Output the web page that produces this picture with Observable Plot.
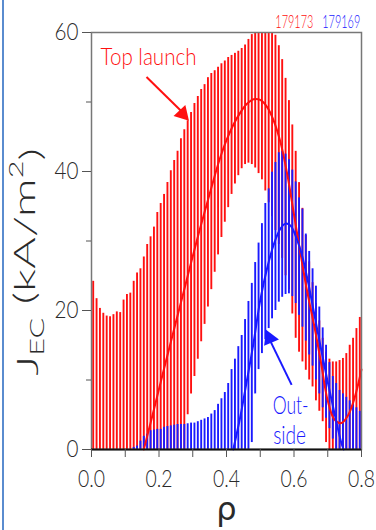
<!DOCTYPE html>
<html><head><meta charset="utf-8">
<script src="https://cdn.jsdelivr.net/npm/d3@7"></script>
<script src="https://cdn.jsdelivr.net/npm/@observablehq/plot@0.6"></script>
<style>
html,body{margin:0;padding:0;background:#fff;}
#wrap{position:relative;width:376px;height:530px;overflow:hidden;background:#fff;}
#border{position:absolute;left:2px;top:0;bottom:0;width:2px;background:#5a8ccf;}
#wrap svg{position:absolute;left:0;top:0;}
</style></head><body><div id="wrap"><div id="border"></div></div>
<script>
// rho grid of the error bars
const rho = [0.005,0.015,0.025,0.035,0.045,0.055,0.065,0.075,0.085,0.095,
  0.105,0.115,0.125,0.135,0.145,0.155,0.165,0.175,0.185,0.195,
  0.205,0.215,0.225,0.235,0.245,0.255,0.265,0.275,0.285,0.295,
  0.305,0.315,0.325,0.335,0.345,0.355,0.365,0.375,0.385,0.395,
  0.405,0.415,0.425,0.435,0.445,0.455,0.465,0.475,0.485,0.495,
  0.505,0.515,0.525,0.535,0.545,0.555,0.565,0.575,0.585,0.595,
  0.605,0.615,0.625,0.635,0.645,0.655,0.665,0.675,0.685,0.695,
  0.705,0.715,0.725,0.735,0.745,0.755,0.765,0.775,0.785,0.795];
// 179173 (top launch) error bar upper / lower
const redHi = [24.2,21.7,20.3,19.6,19.2,19.1,19.4,19.8,19.7,21.5,
  22.3,22.5,24.2,25.4,26.0,27.7,29.5,30.6,32.0,34.1,
  35.4,36.7,38.4,40.1,41.6,42.9,44.7,46.0,47.3,48.5,
  49.8,50.8,51.8,52.5,53.5,54.1,54.5,55.0,55.5,55.9,
  56.4,56.7,57.0,57.3,57.7,58.2,59.0,59.7,61,62,
  62,62,61.5,60.5,59.6,58.1,56.1,53.4,50.2,46.7,
  42.9,38.4,34.7,30.8,27,24,21,18.5,16,14,
  13,12.6,12.6,12.8,13.1,13.8,15,16,17.4,19];
const redLo = [0,0,0,0,0,0,0,0,0,0,
  0,0,0,0,0,0,0,0,0,0,
  0,0,0,0,0,0,0,0,5,8,
  10.5,13,15.5,18,20.5,23,25.5,28,30.5,32.7,
  34.8,36.7,38.2,39.4,40.4,41,41.2,41,40.5,39.7,
  38.8,37.2,35.5,33.5,31.5,29.5,27.5,25,23,19.5,
  16,14,12.6,11.4,10,9,7,5.5,4,1,
  0,0,0,0,0,0,0,0,0,0];
// 179169 (outside launch) error bar upper / lower
const blueHi = [0,0,0,0,0,0,0,0,0,0,
  0,0,0.3,0.5,1.2,1.9,2.2,2.7,2.8,2.9,
  2.9,3.2,3.3,3.4,3.5,3.6,3.6,3.6,3.7,3.8,
  3.8,4.0,4.2,4.4,4.6,5.1,5.6,6.5,7.3,8.2,
  9.5,11.5,13,14.8,16.4,18.7,21.3,23.9,26.9,29.7,
  32.5,35.4,37.5,39.9,41.3,42.7,42.9,42.5,41.7,40.2,
  38.5,36.2,34.6,31,28.5,26,23.5,20.5,17.5,15,
  12.5,10.5,9.5,8.5,8,7.5,7,6.5,6,5.5];
const blueLo = [0,0,0,0,0,0,0,0,0,0,
  0,0,0,0,0,0,0,0,0,0,
  0,0,0,0,0,0,0,0,0,0,
  0,0,0,0,0,0,0,0,0,0,
  0,0,0,0,0,0,0,1,8,11.5,
  13.8,15.8,17.4,18.8,20,21.2,21.9,22.3,22.4,22,
  21,19.3,17.6,15.6,13.6,12,10,8,6,4.5,
  3,1.5,0,0,0,0,0,0,0,0];
// fitted profiles
const redLineRho = [0.155,0.18,0.20,0.22,0.24,0.26,0.28,0.30,0.32,0.34,0.36,0.38,0.40,0.42,0.44,0.46,0.48,0.50,0.52,0.54,0.56,0.58,0.60,0.62,0.64,0.66,0.68,0.70,0.72,0.74,0.76,0.78,0.80];
const redLineJ   = [0,4.8,8.7,12.6,16.4,20.2,24,27.8,31.5,35,38.5,41.8,44.5,46.7,48.4,49.7,50.4,50.3,49.3,47.3,44.2,39.6,33.8,28,22.5,17.8,12.5,7,4.3,3.8,4.9,7.5,11.5];
const blueLineRho = [0.42,0.44,0.46,0.48,0.50,0.52,0.54,0.56,0.575,0.59,0.60,0.62,0.64,0.66,0.68,0.70,0.72,0.74,0.747];
const blueLineJ   = [0,4.5,9.8,15.3,21.5,26,29.5,31.8,32.5,32.2,31.3,28.6,24.5,19.5,14.5,9.7,5.2,1,0];
const xTicksMajor = [0,0.2,0.4,0.6,0.8];
const xTicksMinor = [0.1,0.3,0.5,0.7];
const yTicksMajor = [0,20,40,60];
const yTicksMinor = [10,30,50];
const shots = ["179173","179169"];

const bars = rho.map((r,i)=>({rho:r, rHi:redHi[i], rLo:redLo[i], bHi:blueHi[i], bLo:blueLo[i]}));
const redLine = redLineRho.map((r,i)=>({rho:r, j:redLineJ[i]}));
const blueLine = blueLineRho.map((r,i)=>({rho:r, j:blueLineJ[i]}));

const RED = "#ff1010", BLUE = "#1a1aff";
const TF = "Lato, 'Liberation Sans', sans-serif";

const chart = Plot.plot({
  width:376, height:530,
  marginLeft:91, marginRight:15, marginTop:32, marginBottom:81,
  x:{domain:[0,0.8]},
  y:{domain:[0,60]},
  style:{fontFamily:TF, fontWeight:300, background:"transparent", color:"#2a2a2a", overflow:"visible"},
  marks:[
    Plot.ruleX(bars, {x:"rho", y1:"rLo", y2:"rHi", stroke:RED, strokeWidth:1.9, clip:true}),
    Plot.ruleX(bars.filter(d=>d.bHi>0), {x:"rho", y1:"bLo", y2:"bHi", stroke:BLUE, strokeWidth:1.9, clip:true}),
    Plot.line(redLine, {x:"rho", y:"j", stroke:RED, strokeWidth:2, curve:"catmull-rom"}),
    Plot.line(blueLine, {x:"rho", y:"j", stroke:BLUE, strokeWidth:2, curve:"catmull-rom"}),
    Plot.frame({stroke:"#777", strokeWidth:1.5}),
    Plot.ruleY([0], {stroke:"#111", strokeWidth:2}),
    Plot.axisX({ticks:xTicksMajor, tickFormat:d=>d.toFixed(1), tickSize:8, tickPadding:12, fontSize:24, label:null, stroke:"#555"}),
    Plot.axisX({ticks:xTicksMinor, tickSize:8, text:null, label:null, stroke:"#555"}),
    Plot.axisY({ticks:yTicksMajor, tickSize:9, tickPadding:4, fontSize:24, label:null, stroke:"#555"}),
    Plot.axisY({ticks:yTicksMinor, tickSize:5, text:null, label:null, stroke:"#555"}),
    // annotations
    Plot.text(["Top launch"], {x:0.169, y:56.4, text:d=>d, fill:RED, fontSize:24, fontFamily:TF}),
    Plot.link([{x1:0.163,y1:53.6,x2:0.268,y2:48.6}], {x1:"x1",y1:"y1",x2:"x2",y2:"y2", stroke:RED, strokeWidth:2}),
    Plot.dot([{x:0.270,y:48.3}], {x:"x", y:"y", symbol:"triangle", r:6, fill:RED, stroke:"none", rotate:137}),
    Plot.text(["Out-"], {x:0.590, y:6.3, text:d=>d, fill:BLUE, fontSize:25, fontFamily:TF}),
    Plot.text(["side"], {x:0.587, y:2.0, text:d=>d, fill:BLUE, fontSize:25, fontFamily:TF}),
    Plot.link([{x1:0.593,y1:9.3,x2:0.530,y2:15.6}], {x1:"x1",y1:"y1",x2:"x2",y2:"y2", stroke:BLUE, strokeWidth:2}),
    Plot.dot([{x:0.528,y:16.0}], {x:"x", y:"y", symbol:"triangle", r:6, fill:BLUE, stroke:"none", rotate:-23}),
    Plot.text([shots[0]], {x:0.601, y:61.5, text:d=>d, fill:RED, fontSize:17, fontFamily:TF}),
    Plot.text([shots[1]], {x:0.740, y:61.5, text:d=>d, fill:BLUE, fontSize:17, fontFamily:TF}),
    Plot.text(["ρ"], {frameAnchor:"bottom", dy:70, text:d=>d, fill:"#2a2a2a", fontSize:32, fontFamily:"'DejaVu Sans', sans-serif", fontWeight:"normal"}),
    Plot.text(["JEC (kA/m2)"], {x:-0.187, y:27, rotate:-90, textAnchor:"middle", text:d=>d, fill:"#2a2a2a", fontSize:30, fontFamily:TF})
  ]
});
document.getElementById("wrap").appendChild(chart);
const svg = d3.select(chart);
// squeeze texts horizontally to the reference's narrow face
const widths = {"0.0":27,"0.2":27,"0.4":27,"0.6":27,"0.8":27,"60":24,"40":24,"20":24,"0":12,
  "Top launch":96,"179173":38,"179169":38,"Out-":36,"side":33};
svg.selectAll("text").each(function(){
  const w = widths[this.textContent];
  if (!w) return;
  const natural = this.getComputedTextLength();
  if (!natural) return;
  const s = w / natural;
  const cx = +(this.getAttribute("x") || 0);
  const prev = this.getAttribute("transform") || "";
  this.setAttribute("transform", `${prev} translate(${cx},0) scale(${s},1) translate(${-cx},0)`.trim());
});
// subscript / superscript in the y label
svg.selectAll("text").filter(function(){return this.textContent==="JEC (kA/m2)";})
  .each(function(){
    const t = d3.select(this); t.text("");
    t.append("tspan").text("J");
    t.append("tspan").attr("font-size","19").attr("dy","0.3em").text("EC");
    t.append("tspan").attr("dy","-0.3em").attr("font-size","30").text(" (kA/m");
    t.append("tspan").attr("font-size","19").attr("dy","-0.6em").text("2");
    t.append("tspan").attr("dy","0.6em").attr("font-size","30").text(")");
    t.attr("textLength", 228).attr("lengthAdjust","spacingAndGlyphs");
  });
</script></body></html>
